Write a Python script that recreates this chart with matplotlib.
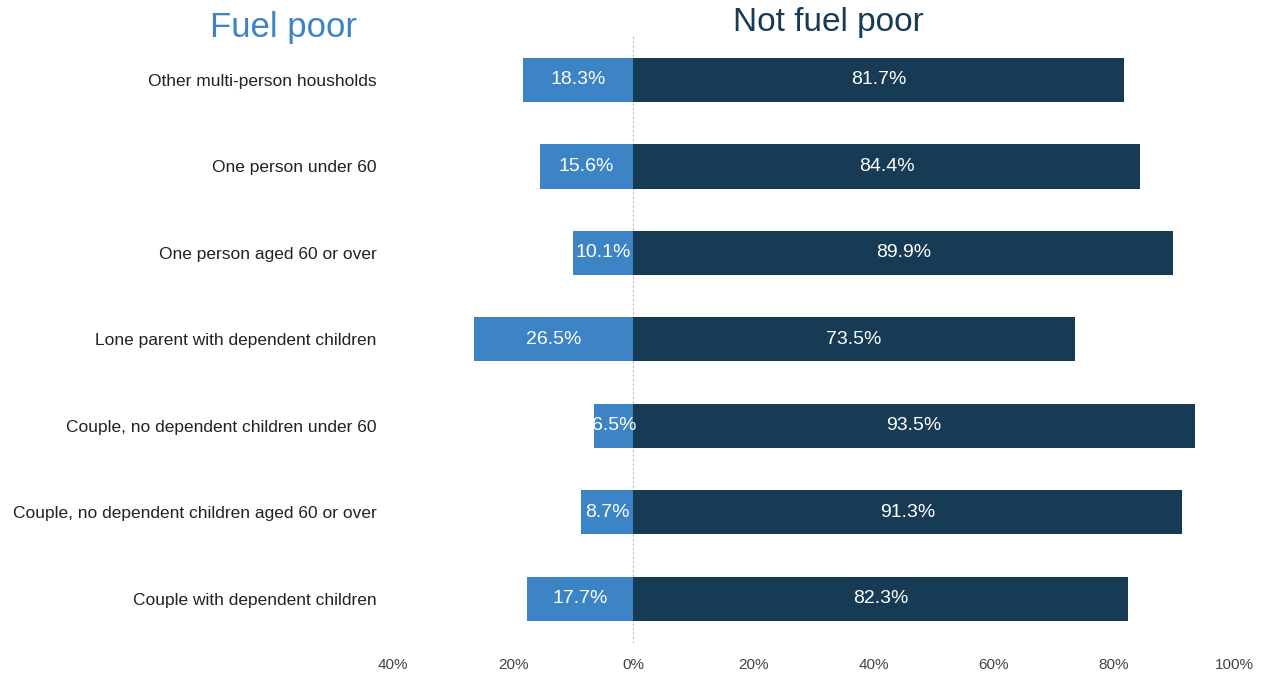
import numpy as np
import matplotlib.pyplot as plt

plt.rcParams['font.family'] = ['Liberation Sans', 'DejaVu Sans']

# categories listed bottom to top
categories = [
    "Couple with dependent children",
    "Couple, no dependent children aged 60 or over",
    "Couple, no dependent children under 60",
    "Lone parent with dependent children",
    "One person aged 60 or over",
    "One person under 60",
    "Other multi-person housholds",
]
fuel_poor = [17.7, 8.7, 6.5, 26.5, 10.1, 15.6, 18.3]
not_fuel_poor = [82.3, 91.3, 93.5, 73.5, 89.9, 84.4, 81.7]
tick_vals = [-40, -20, 0, 20, 40, 60, 80, 100]

light = "#3C84C6"
dark = "#173A55"

fig = plt.figure(figsize=(12.65, 6.75), dpi=100)
ax = fig.add_axes([393 / 1265, 1 - 643 / 675, (1234 - 393) / 1265, (643 - 35) / 675])

y = np.arange(len(categories))
fp = np.array(fuel_poor)
nfp = np.array(not_fuel_poor)
ax.barh(y, -fp, height=0.51, color=light)
ax.barh(y, nfp, height=0.51, color=dark)

for yi, a, b in zip(y, fp, nfp):
    ax.text(-a / 2, yi, f"{a:.1f}%", color="white", ha="center", va="center", fontsize=14)
    ax.text(b / 2, yi, f"{b:.1f}%", color="white", ha="center", va="center", fontsize=14)

ax.axvline(0, color="#BBBBBB", lw=0.8, ls=(0, (2, 2)), zorder=0)

ax.set_xlim(-40, 100)
ax.set_ylim(-0.51, 6.52)
ax.set_xticks(tick_vals)
ax.set_xticklabels([f"{abs(v)}%" for v in tick_vals], fontsize=11, color="#444444")
ax.set_yticks(y)
ax.set_yticklabels(categories, fontsize=12.5, color="#222222")
ax.tick_params(axis="both", length=0)
ax.tick_params(axis="x", pad=11)
ax.tick_params(axis="y", pad=12)
for s in ax.spines.values():
    s.set_visible(False)

fig.text(283 / 1265, 1 - 28 / 675, "Fuel poor", color=light, fontsize=25, ha="center", va="center")
fig.text(828 / 1265, 1 - 22 / 675, "Not fuel poor", color=dark, fontsize=24, ha="center", va="center")

fig.savefig("out.png", dpi=100)
